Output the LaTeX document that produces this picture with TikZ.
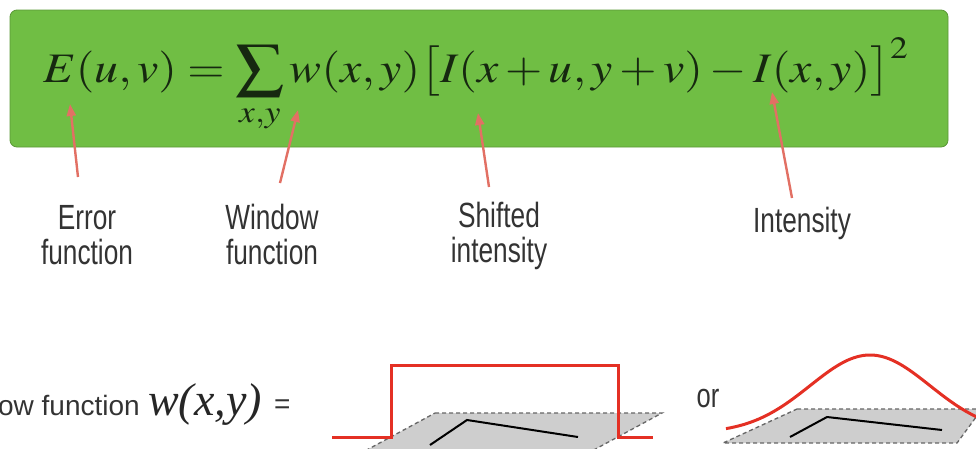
\documentclass[tikz,border=0pt]{standalone}
\usepackage{mathptmx}
\usepackage{fontspec}
\usepackage{xcolor}
\usepackage{graphicx}
\usepackage{tikz}
\usetikzlibrary{arrows.meta}
\newfontfamily\labelfont[FakeStretch=0.75]{Liberation Sans}
\newfontfamily\wfont{Liberation Sans}
\newfontfamily\wserif{Liberation Serif}
\definecolor{boxgreen}{RGB}{112,190,68}
\definecolor{mathink}{RGB}{22,40,16}
\definecolor{arrowred}{RGB}{226,112,100}
\definecolor{curvered}{RGB}{228,48,36}
\definecolor{planegray}{RGB}{206,206,206}
\tikzset{
  eqpanel/.style={
    rectangle,
    rounded corners=7pt,
    fill=boxgreen,
    draw=boxgreen!80!black,
    line width=0.8pt
  },
  termlabel/.style={
    align=center,
    inner sep=0pt,
    text=black!80,
    font=\labelfont\fontsize{35}{35}\selectfont
  },
  termarrow/.style={
    -{Triangle[length=12pt,width=9pt]},
    line width=2.4pt,
    draw=arrowred
  },
  windowcurve/.style={draw=curvered, line width=3pt},
  windowplane/.style={fill=planegray, draw=black!60, dash pattern=on 4pt off 3pt, line width=1.3pt},
  patchline/.style={draw=black, line width=2pt}
}

\begin{document}
\begin{tikzpicture}[x=1pt,y=-1pt]
\useasboundingbox (0,0) rectangle (976,448);
\clip (0,0) rectangle (976,448);

\node[eqpanel, minimum width=938pt, minimum height=137pt] (panel) at (479,78.5) {};
\node[anchor=base west, inner sep=0pt, text=mathink] (energy) at (43,82)
  {\fontsize{42}{48}\selectfont\scalebox{1.14}[1]{$\displaystyle E(u,v) = \sum_{x,y} w(x,y)\bigl[I(x+u,y+v)-I(x,y)\bigr]^2$}};

\node[termlabel, anchor=base] (errlbl) at (87,264) {Error\\function};
\node[termlabel, anchor=base] (winlbl) at (272,264) {Window\\function};
\node[termlabel, anchor=base] (shiftlbl) at (499,262) {Shifted\\intensity};
\node[termlabel, anchor=base] (intlbl) at (802,232) {Intensity};

\coordinate (errtail) at (78,177);
\coordinate (errhead) at (70,104);
\coordinate (wintail) at (280,183);
\coordinate (winhead) at (298,110);
\coordinate (shifttail) at (489,187);
\coordinate (shifthead) at (478,113);
\coordinate (inttail) at (792,198);
\coordinate (inthead) at (772,92);
\draw[termarrow] (errtail) -- (errhead);
\draw[termarrow] (wintail) -- (winhead);
\draw[termarrow] (shifttail) -- (shifthead);
\draw[termarrow] (inttail) -- (inthead);

\node[anchor=base east, inner sep=0pt, text=black!80, font=\wfont\fontsize{28}{30}\selectfont] (wname) at (140,415) {ow function};
\node[anchor=base west, inner sep=0pt, text=black!85, font=\wserif\itshape\fontsize{46}{46}\selectfont] (wargs) at (148,415) {w(x,y)};
\node[anchor=base west, inner sep=0pt, text=black!80, font=\wfont\fontsize{28}{30}\selectfont] (weq) at (274,413) {=};

\filldraw[windowplane] (435,413) -- (662,413) -- (590,452) -- (363,452) -- cycle;
\draw[patchline] (430,445) -- (467,420) -- (578,437);
\draw[windowcurve] (332,437) -- (391,437) -- (391,365) -- (618,365) -- (618,437) -- (653,437);

\node[termlabel, font=\labelfont\fontsize{34}{36}\selectfont] (orlbl) at (708,399) {or};

\filldraw[windowplane] (797,409) -- (982,409) -- (957,443) -- (723,443) -- cycle;
\draw[patchline] (790,437) -- (827,417) -- (942,430);
\draw[windowcurve] plot[domain=726:990, samples=90] (\x, {433-78*exp(-((\x-870)/60)^2/2)});
\end{tikzpicture}
\end{document}
